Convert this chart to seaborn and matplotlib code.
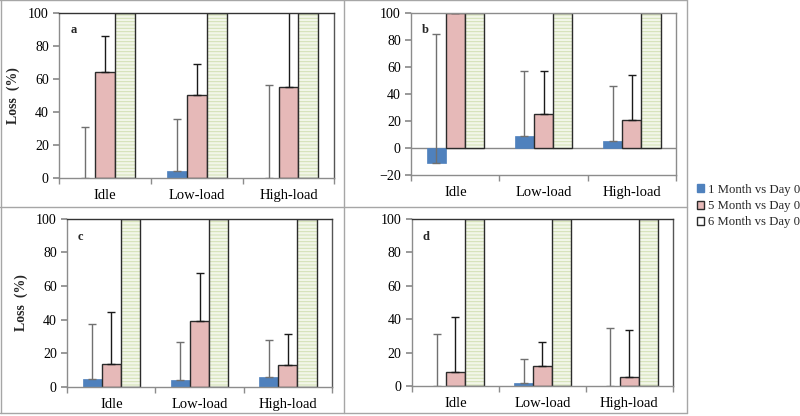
import pandas as pd
import matplotlib.pyplot as plt
import seaborn as sns
from matplotlib.patches import Patch, Rectangle
from matplotlib.lines import Line2D

# ── data ─────────────────────────────────────────────────
categories = ['Idle', 'Low-load', 'High-load']
series = ['1 Month vs Day 0', '5 Month vs Day 0', '6 Month vs Day 0']
panel_labels = ['a', 'b', 'c', 'd']

# 1 month values and upper error lengths
blue_a = [0, 4, 0.2]
blue_a_err = [30.8, 31.7, 56]
blue_b = [-11, 9, 5]
blue_b_err = [95.4, 48.2, 40.8]
blue_c = [4.4, 4, 5.6]
blue_c_err = [32.9, 23, 22.4]
blue_d = [0.3, 1.8, 0]
blue_d_err = [30.7, 14.2, 35]

# 5 month values and upper error lengths
pink_a = [64.5, 50.5, 55]
pink_a_err = [21.7, 18.5, 60]
pink_b = [100, 25, 21]
pink_b_err = [20, 32, 33]
pink_c = [13.7, 39, 13.3]
pink_c_err = [30.7, 28.5, 18]
pink_d = [8.2, 12, 5.4]
pink_d_err = [32.8, 14.2, 28]

# 6 month (all off scale)
green_a = [100, 100, 100]
green_b = [100, 100, 100]
green_c = [100, 100, 100]
green_d = [100, 100, 100]

blues = [blue_a, blue_b, blue_c, blue_d]
blue_errs = [blue_a_err, blue_b_err, blue_c_err, blue_d_err]
pinks = [pink_a, pink_b, pink_c, pink_d]
pink_errs = [pink_a_err, pink_b_err, pink_c_err, pink_d_err]
greens = [green_a, green_b, green_c, green_d]

sns.set_theme(style='white')
plt.rcParams['font.family'] = ['Liberation Serif', 'DejaVu Serif']
plt.rcParams['hatch.linewidth'] = 0.7

palette = ['#4f81bd', '#e6b9b8', '#f2f6e9']

fig = plt.figure(figsize=(8, 4.16), dpi=100)

# axes positions [left, bottom, width, height] in figure fraction
boxes = [
    [0.074, 0.572, 0.344, 0.397],
    [0.514, 0.579, 0.331, 0.390],
    [0.084, 0.070, 0.331, 0.404],
    [0.515, 0.072, 0.326, 0.402],
]

for i in range(4):
    ax = fig.add_axes(boxes[i])
    df = pd.DataFrame({
        'category': categories * 3,
        'series': [series[0]] * 3 + [series[1]] * 3 + [series[2]] * 3,
        'loss': blues[i] + pinks[i] + greens[i],
    })
    sns.barplot(data=df, x='category', y='loss', hue='series', palette=palette,
                errorbar=None, width=0.65, saturation=1, legend=False, ax=ax)

    blue_bars, pink_bars, green_bars = ax.containers[0], ax.containers[1], ax.containers[2]
    for p in blue_bars:
        p.set_edgecolor('#4f81bd')
        p.set_linewidth(0.5)
    for p in pink_bars:
        p.set_edgecolor('#2b2b2b')
        p.set_linewidth(1)
    for p in green_bars:
        p.set_hatch('-----')
        p.set_edgecolor('#d2e0b3')
        p.set_linewidth(0)
        ax.add_patch(Rectangle(p.get_xy(), p.get_width(), p.get_height(),
                               fill=False, ec='#2b2b2b', lw=1, zorder=p.get_zorder() + 0.1))

    # one-sided (plus) error bars
    for bars, vals, errs, col in [(blue_bars, blues[i], blue_errs[i], '#707070'),
                                  (pink_bars, pinks[i], pink_errs[i], '#1a1a1a')]:
        xs = [p.get_x() + p.get_width() / 2 for p in bars]
        ax.errorbar(xs, vals, yerr=[[0] * 3, errs], fmt='none', ecolor=col,
                    elinewidth=1, capsize=3, capthick=1, zorder=1)

    if i == 1:
        ax.set_ylim(-20, 100)
        ax.axhline(0, color='#888888', lw=1, zorder=0.5)
    else:
        ax.set_ylim(0, 100)
    ax.set_yticks(range(-20 if i == 1 else 0, 101, 20))
    ax.set_xlim(-0.5, 2.5)

    for s in ax.spines.values():
        s.set_color('#8c8c8c')
        s.set_linewidth(1)
    if i != 1:
        ax.spines['top'].set_color('#333333')
        ax.spines['right'].set_color('#555555')

    ax.set_xticks([-0.5, 0.5, 1.5, 2.5], minor=True)
    ax.tick_params(axis='x', which='major', length=0, labelsize=10.5, pad=8, colors='black')
    ax.tick_params(axis='x', which='minor', length=4, color='#8c8c8c', direction='out', bottom=True)
    ax.tick_params(axis='y', length=4, color='#8c8c8c', direction='out', left=True,
                   labelsize=10, colors='black')
    ax.set_xlabel('')
    if i in (0, 2):
        ax.set_ylabel('Loss  (%)', fontsize=10, fontweight='bold', labelpad=6)
    else:
        ax.set_ylabel('')
    ax.text(0.04, 0.93, panel_labels[i], transform=ax.transAxes, fontsize=9,
            fontweight='bold', va='top', ha='left')

# panel frames
frame = '#a6a6a6'
fig.add_artist(Line2D([0.43, 0.43], [0.007, 1], color=frame, lw=1))
fig.add_artist(Line2D([0, 0.859], [0.502, 0.502], color=frame, lw=1))
fig.add_artist(Line2D([0.859, 0.859], [0.007, 1], color=frame, lw=1))
fig.add_artist(Line2D([0.001, 0.001], [0.007, 1], color=frame, lw=1))
fig.add_artist(Line2D([0, 0.859], [0.999, 0.999], color=frame, lw=1))
fig.add_artist(Line2D([0, 0.859], [0.007, 0.007], color=frame, lw=1))

handles = [
    Patch(facecolor='#4f81bd', edgecolor='#4f81bd', label=series[0]),
    Patch(facecolor='#e6b9b8', edgecolor='#2b2b2b', label=series[1]),
    Patch(facecolor='white', edgecolor='#2b2b2b', label=series[2]),
]
fig.legend(handles=handles, loc='upper left', bbox_to_anchor=(0.871, 0.558),
           frameon=False, fontsize=9.2, handlelength=0.6, handleheight=0.6,
           handletextpad=0.3, labelspacing=0.33, borderaxespad=0, borderpad=0)

plt.savefig('out.png', dpi=100)
